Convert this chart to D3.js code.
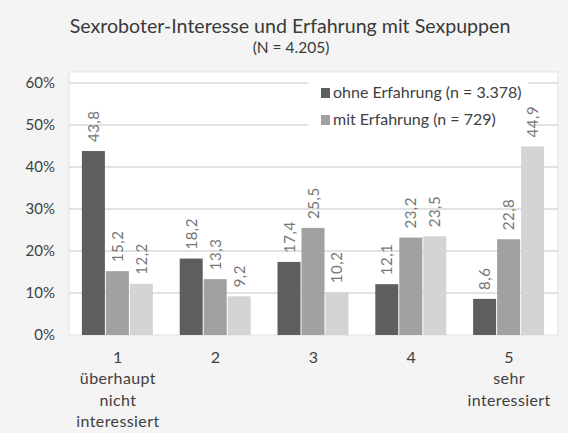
<!DOCTYPE html>
<html>
<head>
<meta charset="utf-8">
<script src="https://cdn.jsdelivr.net/npm/d3@7"></script>
<style>
  body { margin: 0; background: #f4f4f4; }
  text { font-family: Lato, "Open Sans", sans-serif; }
</style>
</head>
<body>
<div id="chart"></div>
<script>
// data
const groups = ["1", "2", "3", "4", "5"];
const groupLabels = [["1", "überhaupt", "nicht", "interessiert"], ["2"], ["3"], ["4"], ["5", "sehr", "interessiert"]];
const series = ["ohne", "mit", "dritte"];
const ohneErfahrung = [43.8, 18.2, 17.4, 12.1, 8.6];
const mitErfahrung = [15.2, 13.3, 25.5, 23.2, 22.8];
const dritteSerie = [12.2, 9.2, 10.2, 23.5, 44.9];
const legendLabels = ["ohne Erfahrung (n = 3.378)", "mit Erfahrung (n = 729)"];
const yTicks = [0, 10, 20, 30, 40, 50, 60];

const width = 568;
const height = 433;
const plot = { left: 69, right: 558, top: 72, bottom: 335 };

const color = d3.scaleOrdinal().domain(series).range(["#5e5e5e", "#a1a1a1", "#d4d4d4"]);

const svg = d3.select("#chart")
  .append("svg")
    .attr("width", width)
    .attr("height", height);

svg.append("rect")
  .attr("width", width)
  .attr("height", height)
  .attr("fill", "#f4f4f4");

// white plot area
svg.append("rect")
  .attr("x", plot.left)
  .attr("y", plot.top)
  .attr("width", plot.right - plot.left)
  .attr("height", plot.bottom - plot.top)
  .attr("fill", "#ffffff")
  .attr("stroke", "#e2e2e2")
  .attr("stroke-width", 1);

const x0 = d3.scaleBand()
  .domain(groups)
  .range([plot.left, plot.right])
  .paddingInner(0.264)
  .paddingOuter(0.132);

const x1 = d3.scaleBand()
  .domain(series)
  .range([0, x0.bandwidth()]);

const y = d3.scaleLinear()
  .domain([0, 60])
  .range([plot.bottom, 83]);

// gridlines
svg.append("g")
  .selectAll("line")
  .data(yTicks.filter(d => d > 0))
  .join("line")
    .attr("x1", plot.left)
    .attr("x2", plot.right)
    .attr("y1", d => y(d))
    .attr("y2", d => y(d))
    .attr("stroke", "#d9d9d9")
    .attr("stroke-width", 1.5);

// y axis labels
const yAxis = d3.axisLeft(y)
  .tickValues(yTicks)
  .tickFormat(d => d + "%")
  .tickSize(0)
  .tickPadding(14);

svg.append("g")
  .attr("transform", `translate(${plot.left},0)`)
  .call(yAxis)
  .call(g => g.select(".domain").remove())
  .call(g => g.selectAll("text")
    .attr("font-size", 15)
    .attr("fill", "#404040")
    .style("font-family", "Lato, sans-serif"));

// legend box (white, hides gridlines)
const legend = svg.append("g");
legend.append("rect")
  .attr("x", 308)
  .attr("y", 79)
  .attr("width", 220)
  .attr("height", 52)
  .attr("fill", "#ffffff");

const rows = legend.selectAll("g.row")
  .data(legendLabels)
  .join("g")
    .attr("class", "row")
    .attr("transform", (d, i) => `translate(321,${93 + i * 27})`);

rows.append("rect")
  .attr("x", 0)
  .attr("y", -5)
  .attr("width", 9)
  .attr("height", 10)
  .attr("fill", (d, i) => color(series[i]));

rows.append("text")
  .attr("x", 12)
  .attr("y", 5)
  .attr("font-size", 16)
  .attr("fill", "#404040")
  .text(d => d);

// bars
const rowsData = groups.map((g, i) => ({
  group: g,
  values: [
    { key: "ohne", value: ohneErfahrung[i] },
    { key: "mit", value: mitErfahrung[i] },
    { key: "dritte", value: dritteSerie[i] }
  ]
}));

const gGroups = svg.append("g")
  .selectAll("g")
  .data(rowsData)
  .join("g")
    .attr("transform", d => `translate(${x0(d.group)},0)`);

gGroups.selectAll("rect")
  .data(d => d.values)
  .join("rect")
    .attr("x", d => x1(d.key))
    .attr("y", d => y(d.value))
    .attr("width", x1.bandwidth() - 1)
    .attr("height", d => y(0) - y(d.value))
    .attr("fill", d => color(d.key));

// value labels, rotated
gGroups.selectAll("text")
  .data(d => d.values)
  .join("text")
    .attr("transform", d => `translate(${x1(d.key) + x1.bandwidth() / 2 + 5},${y(d.value) - 9}) rotate(-90)`)
    .attr("font-size", 15)
    .attr("letter-spacing", 0.5)
    .attr("fill", "#767676")
    .attr("text-anchor", "start")
    .text(d => d3.format(".1f")(d.value).replace(".", ","));

// x labels
const xl = svg.append("g")
  .selectAll("text")
  .data(groups)
  .join("text")
    .attr("x", d => x0(d) + x0.bandwidth() / 2)
    .attr("y", 363)
    .attr("text-anchor", "middle")
    .attr("font-size", 16)
    .attr("letter-spacing", 0.4)
    .attr("fill", "#404040");

xl.selectAll("tspan")
  .data((d, i) => groupLabels[i])
  .join("tspan")
    .attr("x", function() { return d3.select(this.parentNode).attr("x"); })
    .attr("dy", (d, i) => i === 0 ? 0 : 21.3)
    .text(d => d);

// title
svg.append("text")
  .attr("x", 290)
  .attr("y", 33)
  .attr("text-anchor", "middle")
  .attr("font-size", 19.6)
  .attr("fill", "#3a3a3a")
  .text("Sexroboter-Interesse und Erfahrung mit Sexpuppen");

svg.append("text")
  .attr("x", 291)
  .attr("y", 53)
  .attr("text-anchor", "middle")
  .attr("font-size", 15.5)
  .attr("fill", "#3a3a3a")
  .text("(N = 4.205)");
</script>
</body>
</html>
